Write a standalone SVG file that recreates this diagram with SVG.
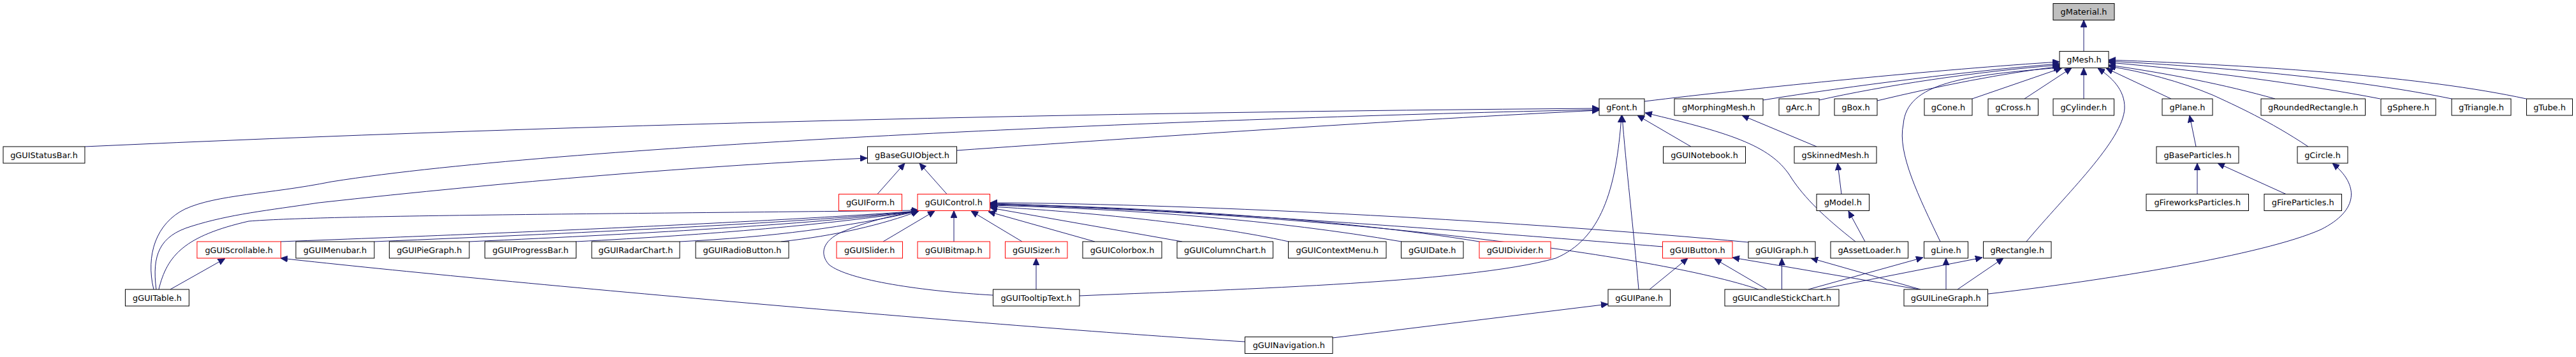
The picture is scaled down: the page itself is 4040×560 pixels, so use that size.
<svg xmlns="http://www.w3.org/2000/svg" width="4040" height="560" viewBox="0 0 4040 560">
<style>
.n rect{fill:#fff;stroke:#000;stroke-width:1}
.n.r rect{stroke:#ff0000}
.n.root rect{fill:#bfbfbf}
.n text{font-family:"DejaVu Sans","Liberation Sans",sans-serif;font-size:12.9px;text-anchor:middle;fill:#000}
.e path{fill:none;stroke:#191970;stroke-width:1;marker-end:url(#ah)}
</style>
<defs>
<marker id="ah" viewBox="0 0 11 10" refX="11" refY="5" markerWidth="11" markerHeight="10" markerUnits="userSpaceOnUse" orient="auto">
<path d="M0,0 L11,5 L0,10 z" fill="#191970" stroke="#191970" stroke-width="0.8"/>
</marker>
</defs>
<rect x="0" y="0" width="4040" height="560" fill="#fff"/>
<g id="edges" class="e">
<path d="M3268,80.5 L3268,31.5"/>
<path d="M2579,159 C2750,138 3050,108 3230,97"/>
<path d="M2765,157 C2900,135 3100,110 3230,100"/>
<path d="M2853,157 C2950,135 3100,112 3230,102"/>
<path d="M2944,158 C3040,135 3140,115 3232,104"/>
<path d="M3093,155 L3234,106.5"/>
<path d="M3175,155 L3249,106.5"/>
<path d="M3268,155 L3268,106.5"/>
<path d="M3043,379 C3010,310 2975,240 2985,195 C2990,130 3080,118 3232,106"/>
<path d="M3178,379 C3240,305 3330,220 3332,170 C3333,140 3310,120 3290,107"/>
<path d="M3405,155 L3303,107"/>
<path d="M3568,155 C3490,133 3400,115 3307,102"/>
<path d="M3733,155 C3620,133 3450,110 3307,98"/>
<path d="M3845,155 C3700,125 3500,106 3307,96"/>
<path d="M3962,155 C3800,120 3550,103 3307,94"/>
<path d="M3620,230 C3560,190 3505,165 3470,149 C3420,128 3360,112 3307,104"/>
<path d="M133,230 C900,195 1700,176 2508,170"/>
<path d="M1500,236 C1800,215 2200,188 2508,173"/>
<path d="M241,454 C228,400 245,350 290,328 C340,305 420,305 520,285 C900,225 1900,185 2508,172"/>
<path d="M1693,464 C1900,455 2300,445 2440,405 C2510,375 2535,300 2543,181"/>
<path d="M2570,454 C2562,360 2550,260 2544,181"/>
<path d="M2652,230 L2568,181"/>
<path d="M2910,379 C2860,340 2830,310 2810,280 C2780,230 2720,210 2580,177"/>
<path d="M1376,304.5 L1419,256"/>
<path d="M1485,304.5 L1442,256"/>
<path d="M245,454 C238,400 250,370 300,355 C360,336 420,330 500,318 C800,285 1100,260 1360,248"/>
<path d="M249,454 C262,400 290,370 390,347 C500,338 900,336 1441,330"/>
<path d="M440,379 C900,362 1250,345 1441,331"/>
<path d="M587,379 C950,364 1270,348 1441,331"/>
<path d="M736,379 C1030,366 1290,350 1441,331"/>
<path d="M903,379 C1120,368 1300,352 1441,331"/>
<path d="M1066,379 C1210,372 1330,356 1441,331"/>
<path d="M1225,379 C1310,370 1385,352 1441,331"/>
<path d="M1385,379 L1466,331"/>
<path d="M1496,379 L1496,330.5"/>
<path d="M1603,379 L1523,331"/>
<path d="M1557,463 C1450,457 1330,440 1300,415 C1285,398 1290,378 1320,364 C1360,347 1400,338 1440,331"/>
<path d="M1717,379 L1550,332"/>
<path d="M1854,379 L1553,326"/>
<path d="M2021,379 C1900,352 1700,332 1553,324"/>
<path d="M2198,379 C2000,345 1780,328 1553,322"/>
<path d="M2320,379 C2100,343 1800,325 1553,320"/>
<path d="M2608,387 C2400,370 1900,330 1553,319"/>
<path d="M2742,380 C2400,348 1900,320 1553,318"/>
<path d="M2758,454 C2600,400 2100,335 1553,321"/>
<path d="M267,454 L353,405.5"/>
<path d="M1952,536 C1600,515 800,445 440,405"/>
<path d="M2090,530 L2522,477"/>
<path d="M2587,454 L2647,405"/>
<path d="M2771,454 L2689,406"/>
<path d="M3010,454 L2717,404"/>
<path d="M2794.5,454 L2794.5,405"/>
<path d="M3012,454 L2840,405"/>
<path d="M2836,454 L3016,404"/>
<path d="M3052,454 L3052,405"/>
<path d="M2854,454 L3109,404"/>
<path d="M3070,454 L3142,405"/>
<path d="M3118,461 C3300,440 3550,400 3640,360 C3700,330 3700,290 3658,256"/>
<path d="M2925,379 L2899,331"/>
<path d="M2888,304.5 L2882,256"/>
<path d="M2849,230 L2732,181"/>
<path d="M3444,230 L3434,181"/>
<path d="M3446,304.5 L3446,256"/>
<path d="M3585,304.5 L3478,256"/>
<path d="M1625,454 L1625,405"/>
</g>
<g id="node-gMaterial" class="n root"><rect x="3220" y="5.5" width="96" height="26"/><text x="3268" y="23">gMaterial.h</text></g>
<g id="node-gMesh" class="n"><rect x="3230" y="80.5" width="77" height="26"/><text x="3268.5" y="98">gMesh.h</text></g>
<g id="node-gFont" class="n"><rect x="2508" y="155" width="71" height="26"/><text x="2543.5" y="172.5">gFont.h</text></g>
<g id="node-gMorphingMesh" class="n"><rect x="2626" y="155" width="139" height="26"/><text x="2695.5" y="172.5">gMorphingMesh.h</text></g>
<g id="node-gArc" class="n"><rect x="2790" y="155" width="63" height="26"/><text x="2821.5" y="172.5">gArc.h</text></g>
<g id="node-gBox" class="n"><rect x="2877" y="155" width="67" height="26"/><text x="2910.5" y="172.5">gBox.h</text></g>
<g id="node-gCone" class="n"><rect x="3018" y="155" width="75" height="26"/><text x="3055.5" y="172.5">gCone.h</text></g>
<g id="node-gCross" class="n"><rect x="3118" y="155" width="78.5" height="26"/><text x="3157.25" y="172.5">gCross.h</text></g>
<g id="node-gCylinder" class="n"><rect x="3220" y="155" width="95.5" height="26"/><text x="3267.75" y="172.5">gCylinder.h</text></g>
<g id="node-gPlane" class="n"><rect x="3391" y="155" width="79" height="26"/><text x="3430.5" y="172.5">gPlane.h</text></g>
<g id="node-gRoundedRectangle" class="n"><rect x="3546" y="155" width="163.5" height="26"/><text x="3627.75" y="172.5">gRoundedRectangle.h</text></g>
<g id="node-gSphere" class="n"><rect x="3734" y="155" width="86" height="26"/><text x="3777" y="172.5">gSphere.h</text></g>
<g id="node-gTriangle" class="n"><rect x="3845" y="155" width="93" height="26"/><text x="3891.5" y="172.5">gTriangle.h</text></g>
<g id="node-gTube" class="n"><rect x="3962.5" y="155" width="72" height="26"/><text x="3998.5" y="172.5">gTube.h</text></g>
<g id="node-gGUIStatusBar" class="n"><rect x="5" y="230" width="128" height="26"/><text x="69" y="247.5">gGUIStatusBar.h</text></g>
<g id="node-gBaseGUIObject" class="n"><rect x="1360.5" y="230" width="140" height="26"/><text x="1430.5" y="247.5">gBaseGUIObject.h</text></g>
<g id="node-gGUINotebook" class="n"><rect x="2608.5" y="230" width="129" height="26"/><text x="2673" y="247.5">gGUINotebook.h</text></g>
<g id="node-gSkinnedMesh" class="n"><rect x="2814" y="230" width="129" height="26"/><text x="2878.5" y="247.5">gSkinnedMesh.h</text></g>
<g id="node-gBaseParticles" class="n"><rect x="3382" y="230" width="129" height="26"/><text x="3446.5" y="247.5">gBaseParticles.h</text></g>
<g id="node-gCircle" class="n"><rect x="3603" y="230" width="79" height="26"/><text x="3642.5" y="247.5">gCircle.h</text></g>
<g id="node-gGUIForm" class="n r"><rect x="1315.5" y="304.5" width="99" height="26"/><text x="1365" y="322">gGUIForm.h</text></g>
<g id="node-gGUIControl" class="n r"><rect x="1439" y="304.5" width="113.5" height="26"/><text x="1495.75" y="322">gGUIControl.h</text></g>
<g id="node-gModel" class="n"><rect x="2849" y="304.5" width="82.5" height="26"/><text x="2890.25" y="322">gModel.h</text></g>
<g id="node-gFireworksParticles" class="n"><rect x="3366" y="304.5" width="160.5" height="26"/><text x="3446.25" y="322">gFireworksParticles.h</text></g>
<g id="node-gFireParticles" class="n"><rect x="3551" y="304.5" width="121.5" height="26"/><text x="3611.75" y="322">gFireParticles.h</text></g>
<g id="node-gGUIScrollable" class="n r"><rect x="309" y="379" width="131.5" height="26"/><text x="374.75" y="396.5">gGUIScrollable.h</text></g>
<g id="node-gGUIMenubar" class="n"><rect x="464" y="379" width="123" height="26"/><text x="525.5" y="396.5">gGUIMenubar.h</text></g>
<g id="node-gGUIPieGraph" class="n"><rect x="610.5" y="379" width="125.5" height="26"/><text x="673.25" y="396.5">gGUIPieGraph.h</text></g>
<g id="node-gGUIProgressBar" class="n"><rect x="760.5" y="379" width="143" height="26"/><text x="832" y="396.5">gGUIProgressBar.h</text></g>
<g id="node-gGUIRadarChart" class="n"><rect x="928" y="379" width="138" height="26"/><text x="997" y="396.5">gGUIRadarChart.h</text></g>
<g id="node-gGUIRadioButton" class="n"><rect x="1091" y="379" width="146" height="26"/><text x="1164" y="396.5">gGUIRadioButton.h</text></g>
<g id="node-gGUISlider" class="n r"><rect x="1312" y="379" width="103.5" height="26"/><text x="1363.75" y="396.5">gGUISlider.h</text></g>
<g id="node-gGUIBitmap" class="n r"><rect x="1439" y="379" width="113.5" height="26"/><text x="1495.75" y="396.5">gGUIBitmap.h</text></g>
<g id="node-gGUISizer" class="n r"><rect x="1576.5" y="379" width="97.5" height="26"/><text x="1625.25" y="396.5">gGUISizer.h</text></g>
<g id="node-gGUIColorbox" class="n"><rect x="1698" y="379" width="124" height="26"/><text x="1760" y="396.5">gGUIColorbox.h</text></g>
<g id="node-gGUIColumnChart" class="n"><rect x="1846" y="379" width="150.5" height="26"/><text x="1921.25" y="396.5">gGUIColumnChart.h</text></g>
<g id="node-gGUIContextMenu" class="n"><rect x="2020.5" y="379" width="153.5" height="26"/><text x="2097.25" y="396.5">gGUIContextMenu.h</text></g>
<g id="node-gGUIDate" class="n"><rect x="2197.5" y="379" width="97.5" height="26"/><text x="2246.25" y="396.5">gGUIDate.h</text></g>
<g id="node-gGUIDivider" class="n r"><rect x="2320" y="379" width="112" height="26"/><text x="2376" y="396.5">gGUIDivider.h</text></g>
<g id="node-gGUIButton" class="n r"><rect x="2607.5" y="379" width="109.5" height="26"/><text x="2662.25" y="396.5">gGUIButton.h</text></g>
<g id="node-gGUIGraph" class="n"><rect x="2742" y="379" width="105" height="26"/><text x="2794.5" y="396.5">gGUIGraph.h</text></g>
<g id="node-gAssetLoader" class="n"><rect x="2871" y="379" width="121.5" height="26"/><text x="2931.75" y="396.5">gAssetLoader.h</text></g>
<g id="node-gLine" class="n"><rect x="3017.5" y="379" width="69" height="26"/><text x="3052" y="396.5">gLine.h</text></g>
<g id="node-gRectangle" class="n"><rect x="3110.5" y="379" width="106.5" height="26"/><text x="3163.75" y="396.5">gRectangle.h</text></g>
<g id="node-gGUITable" class="n"><rect x="196.5" y="454" width="100" height="26"/><text x="246.5" y="471.5">gGUITable.h</text></g>
<g id="node-gGUITooltipText" class="n"><rect x="1557.5" y="454" width="135.5" height="26"/><text x="1625.25" y="471.5">gGUITooltipText.h</text></g>
<g id="node-gGUIPane" class="n"><rect x="2522" y="454" width="97.5" height="26"/><text x="2570.75" y="471.5">gGUIPane.h</text></g>
<g id="node-gGUICandleStickChart" class="n"><rect x="2705" y="454" width="179" height="26"/><text x="2794.5" y="471.5">gGUICandleStickChart.h</text></g>
<g id="node-gGUILineGraph" class="n"><rect x="2986" y="454" width="131.5" height="26"/><text x="3051.75" y="471.5">gGUILineGraph.h</text></g>
<g id="node-gGUINavigation" class="n"><rect x="1952.5" y="528.5" width="137.5" height="26"/><text x="2021.25" y="546">gGUINavigation.h</text></g>
</svg>
